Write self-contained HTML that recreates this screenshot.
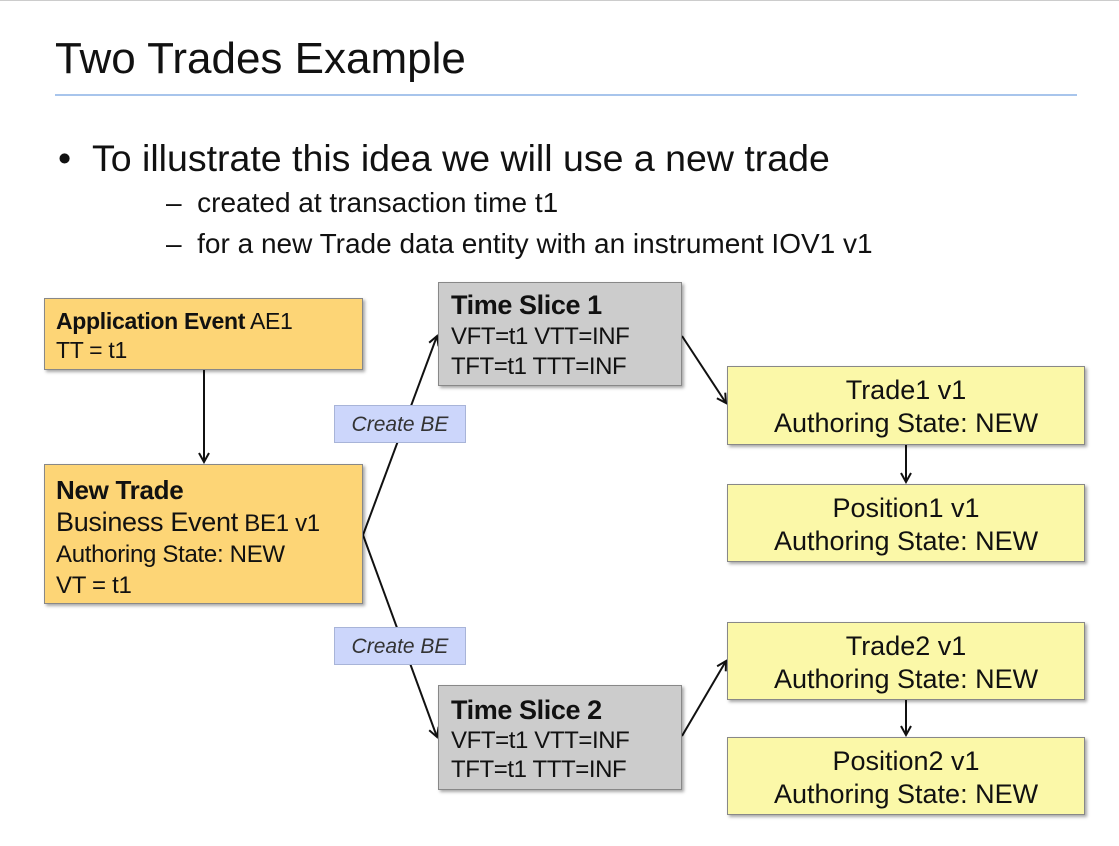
<!DOCTYPE html>
<html><head><style>
body{margin:0;width:1119px;height:846px;background:#fff;position:relative;overflow:hidden;font-family:"Liberation Sans",Arial,sans-serif;color:#111}
.a{position:absolute;white-space:nowrap}
.box{position:absolute;box-sizing:border-box;border:1px solid #888;box-shadow:2px 2px 3px rgba(0,0,0,.35);white-space:nowrap}
.or{background:#fdd576}
.gr{background:#cccccc}
.ye{background:#fbf8a8;text-align:center;font-size:27px;line-height:33px;padding-top:7px}
.lbl{position:absolute;background:#ccd6fb;border:1px solid #a8b4d8;font-style:italic;font-size:21px;color:#333;text-align:center;line-height:38px;box-sizing:border-box}
</style></head><body>
<div class="a" style="left:0;top:0;width:1119px;height:1px;background:#ccc"></div>
<div class="a" style="left:55px;top:34px;font-size:44px;color:#111">Two Trades Example</div>
<div class="a" style="left:55px;top:94px;width:1022px;height:2px;background:#a8c5ec"></div>
<div class="a" style="left:58px;top:137px;font-size:37.5px">•&nbsp;&nbsp;To illustrate this idea we will use a new trade</div>
<div class="a" style="left:166px;top:187px;font-size:28px">–&nbsp; created at transaction time t1</div>
<div class="a" style="left:166px;top:228px;font-size:28px">–&nbsp; for a new Trade data entity with an instrument IOV1 v1</div>

<svg class="a" style="left:0;top:0" width="1119" height="846">
<defs><marker id="m" markerWidth="12" markerHeight="12" refX="10" refY="6" orient="auto" markerUnits="userSpaceOnUse"><path d="M1,1 L10,6 L1,11" fill="none" stroke="#111" stroke-width="2"/></marker></defs>
<g stroke="#111" stroke-width="2" fill="none">
<line x1="204" y1="370" x2="204" y2="462" marker-end="url(#m)"/>
<polyline points="363,535 437,336" marker-end="url(#m)"/>
<polyline points="363,535 437,737" marker-end="url(#m)"/>
<line x1="682" y1="336" x2="726" y2="403" marker-end="url(#m)"/>
<line x1="682" y1="736" x2="726" y2="661" marker-end="url(#m)"/>
<line x1="906" y1="445" x2="906" y2="482" marker-end="url(#m)"/>
<line x1="906" y1="700" x2="906" y2="735" marker-end="url(#m)"/>
</g></svg>

<div class="box or" style="left:44px;top:298px;width:319px;height:72px;padding:8px 11px;font-size:23px;line-height:29px;letter-spacing:-0.3px"><b>Application Event</b> AE1<br>TT = t1</div>
<div class="box or" style="left:44px;top:464px;width:319px;height:140px;padding:10px 11px;font-size:24px;line-height:31px;letter-spacing:-0.3px"><b style="font-size:26px">New Trade</b><br><span style="font-size:27px">Business Event</span> BE1 v1<br>Authoring State: NEW<br>VT = t1</div>
<div class="lbl" style="left:334px;top:405px;width:132px;height:38px">Create BE</div>
<div class="lbl" style="left:334px;top:627px;width:132px;height:38px">Create BE</div>
<div class="box gr" style="left:438px;top:282px;width:244px;height:104px;padding:7px 12px;font-size:24px;line-height:30px;letter-spacing:-0.4px"><b style="font-size:27px">Time Slice 1</b><br>VFT=t1 VTT=INF<br>TFT=t1 TTT=INF</div>
<div class="box gr" style="left:438px;top:685px;width:244px;height:105px;padding:10px 12px;font-size:24px;line-height:29px;letter-spacing:-0.4px"><b style="font-size:27px">Time Slice 2</b><br>VFT=t1 VTT=INF<br>TFT=t1 TTT=INF</div>
<div class="box ye" style="left:727px;top:366px;width:358px;height:79px">Trade1 v1<br>Authoring State: NEW</div>
<div class="box ye" style="left:727px;top:484px;width:358px;height:78px">Position1 v1<br>Authoring State: NEW</div>
<div class="box ye" style="left:727px;top:622px;width:358px;height:78px">Trade2 v1<br>Authoring State: NEW</div>
<div class="box ye" style="left:727px;top:737px;width:358px;height:78px">Position2 v1<br>Authoring State: NEW</div>
</body></html>
